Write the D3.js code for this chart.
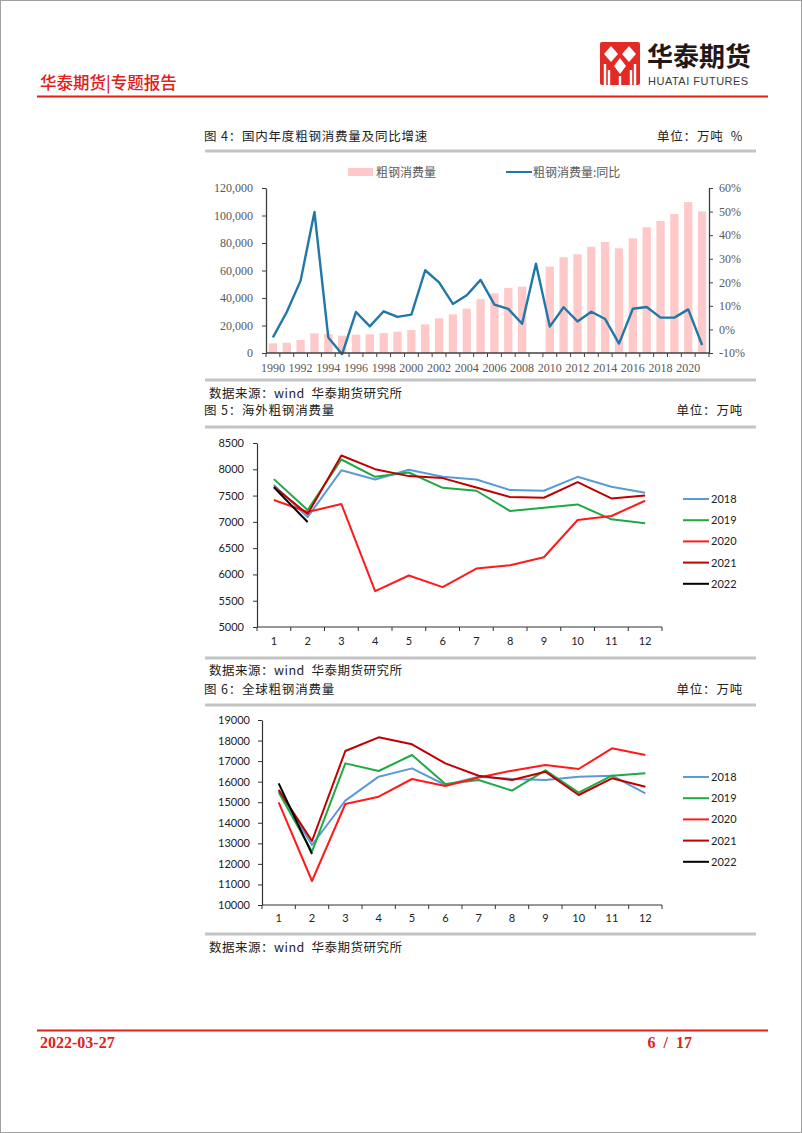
<!DOCTYPE html>
<html><head><meta charset="utf-8">
<script src="https://cdn.jsdelivr.net/npm/d3@7"></script>
<style>
html,body{margin:0;padding:0;background:#fff;}
svg{display:block;}
</style></head>
<body>
<svg id="page" width="802" height="1133"></svg>
<script>
// ---------- DATA ----------
const years = d3.range(1990, 2022);
const consumption = [7000,7500,9500,14300,13800,12600,13300,13600,14500,15500,16700,20800,25200,28100,32200,39200,43400,47300,48300,null,62800,69600,71800,77300,80700,76100,83400,91400,96000,101100,109800,103000];
const yoy = [-3.4,7.4,20.7,49.8,-3.4,-10.5,7.4,1.3,7.7,5.3,6.3,25.1,20.0,10.8,14.5,21.0,10.5,8.7,2.4,27.9,1.2,9.4,3.4,7.5,4.4,-6.0,8.8,9.5,5.0,5.0,8.5,-6.6];
const leftTicks4 = [0,20000,40000,60000,80000,100000,120000];
const rightTicks4 = [-10,0,10,20,30,40,50,60];
const yearLabels4 = d3.range(1990, 2021, 2);

const months = [1,2,3,4,5,6,7,8,9,10,11,12];
const seriesNames = ["2018","2019","2020","2021","2022"];
const seriesColors = ["#5B9BD5","#1DAA46","#FF1A1A","#C00000","#000000"];

const overseas2018 = [7700,7090,7980,7806,7990,7857,7806,7604,7592,7857,7668,7554];
const overseas2019 = [7813,7225,8186,7857,7939,7648,7592,7206,7269,7332,7048,6972];
const overseas2020 = [7415,7187,7339,5683,5980,5759,6112,6176,6327,7035,7111,7402];
const overseas2021 = [7667,7149,8262,8002,7870,7832,7655,7472,7459,7756,7446,7503];
const overseas2022 = [7655,6998];
const overseasTicks = [5000,5500,6000,6500,7000,7500,8000,8500];

const global2018 = [15600,12920,15075,16243,16648,15838,16240,16130,16080,16243,16290,15430];
const global2019 = [15480,12594,16891,16519,17297,15886,16080,15562,16551,15464,16291,16405];
const global2020 = [14994,11168,14913,15270,16130,15789,16200,16535,16810,16616,17621,17297];
const global2021 = [15594,13113,17491,18156,17816,16891,16290,16080,16486,15351,16162,15757];
const global2022 = [15918,12481];
const globalTicks = [10000,11000,12000,13000,14000,15000,16000,17000,18000,19000];

// ---------- PAGE ----------
const svg = d3.select("#page");
const CJK = "'Noto Sans CJK SC', sans-serif";
svg.append("rect").attr("x",0.5).attr("y",0.5).attr("width",801).attr("height",1132)
  .attr("fill","none").attr("stroke","#a0a0a0").attr("stroke-width",1);

// header
svg.append("text").attr("x",40).attr("y",89).text("华泰期货|专题报告")
  .attr("font-family",CJK).attr("font-size",16.5).attr("font-weight",500).attr("fill","#e0201b");
svg.append("line").attr("x1",37).attr("x2",768).attr("y1",96.5).attr("y2",96.5)
  .attr("stroke","#e0201b").attr("stroke-width",2);
// logo
const logo = svg.append("g");
logo.append("rect").attr("x",600).attr("y",42).attr("width",40).attr("height",43).attr("rx",2).attr("fill","#e42a24");
[[611,54],[629,54]].forEach(([cx,cy])=>{
  logo.append("path").attr("d",`M${cx},${cy-8}L${cx+7},${cy}L${cx},${cy+8}L${cx-7},${cy}Z`).attr("fill","#fff");
});
logo.append("path").attr("d","M620,58L626,66L620,74L614,66Z").attr("fill","#fff");
[[605,64],[609,70],[631,70],[635,64]].forEach(([x,y])=>{
  logo.append("rect").attr("x",x-1.2).attr("y",y).attr("width",2.4).attr("height",85-y).attr("fill","#fff");
});
logo.append("rect").attr("x",618.8).attr("y",76).attr("width",2.4).attr("height",9).attr("fill","#fff");
svg.append("text").attr("x",647).attr("y",66).text("华泰期货")
  .attr("font-family",CJK).attr("font-size",26).attr("font-weight",700).attr("fill","#231815");
svg.append("text").attr("x",648).attr("y",85).text("HUATAI FUTURES")
  .attr("font-family","'Liberation Sans', Arial, sans-serif").attr("font-size",11).attr("letter-spacing",0.5).attr("fill","#3a3a3a");

// footer
svg.append("line").attr("x1",37).attr("x2",768).attr("y1",1030.5).attr("y2",1030.5)
  .attr("stroke","#e0201b").attr("stroke-width",2);
svg.append("text").attr("x",40).attr("y",1048).text("2022-03-27")
  .attr("font-family","'Liberation Serif', serif").attr("font-size",16).attr("font-weight",700).attr("fill","#e0201b");
svg.append("text").attr("x",692).attr("y",1048).attr("text-anchor","end").text("6  /  17")
  .attr("font-family","'Liberation Serif', serif").attr("font-size",16).attr("font-weight",700).attr("fill","#e0201b")
  .style("white-space","pre");

// helpers
function titleRow(y, left, right){
  svg.append("text").attr("x",204).attr("y",y).text(left)
    .attr("font-family",CJK).attr("font-size",12.5).attr("letter-spacing",0.8).attr("fill","#222");
  svg.append("text").attr("x",743).attr("y",y).attr("text-anchor","end").text(right)
    .attr("font-family",CJK).attr("font-size",12.5).attr("letter-spacing",0.8).attr("fill","#222")
    .style("white-space","pre");
}
function grayRule(y){
  svg.append("line").attr("x1",205).attr("x2",756).attr("y1",y).attr("y2",y)
    .attr("stroke","#c4c4c4").attr("stroke-width",3);
}
function source(y){
  svg.append("text").attr("x",209).attr("y",y).text("数据来源：wind  华泰期货研究所")
    .attr("font-family",CJK).attr("font-size",12.5).attr("letter-spacing",0.5).attr("fill","#222")
    .style("white-space","pre");
}

// ---------- CHART 4 ----------
titleRow(141, "图 4：国内年度粗钢消费量及同比增速", "单位：万吨  %");
grayRule(151);
{
  const x = d3.scaleBand().domain(years).range([266,709]).paddingInner(0.4).paddingOuter(0.2);
  const yL = d3.scaleLinear().domain([0,120000]).range([353,188]);
  const yR = d3.scaleLinear().domain([-10,60]).range([353,188]);
  const g = svg.append("g");
  const axisCol = "#404040";
  g.selectAll("rect.bar").data(years.map((yr,i)=>({yr,v:consumption[i]})).filter(d=>d.v!=null))
    .join("rect").attr("class","bar")
    .attr("x",d=>x(d.yr)).attr("width",x.bandwidth())
    .attr("y",d=>yL(d.v)).attr("height",d=>yL(0)-yL(d.v)).attr("fill","#FFC9C9");
  const line = d3.line().x((d,i)=>x(years[i])+x.bandwidth()/2).y(d=>yR(d));
  g.append("path").datum(yoy).attr("d",line).attr("fill","none")
    .attr("stroke","#1F78A8").attr("stroke-width",2.4).attr("stroke-linejoin","round");
  const la = g.append("g").attr("transform","translate(266,0)")
    .call(d3.axisLeft(yL).tickValues(leftTicks4).tickSize(4).tickSizeOuter(0).tickFormat(d3.format(",")));
  la.select(".domain").attr("stroke",axisCol).attr("stroke-width",1.3);
  la.selectAll(".tick line").attr("stroke",axisCol);
  la.selectAll("text").attr("x",-13).attr("font-family","'Liberation Serif', serif").attr("font-size",12).attr("fill","#595959");
  const ra = g.append("g").attr("transform","translate(709,0)")
    .call(d3.axisRight(yR).tickValues(rightTicks4).tickSize(4).tickSizeOuter(0).tickFormat(d=>d+"%"));
  ra.select(".domain").attr("stroke",axisCol).attr("stroke-width",1.3);
  ra.selectAll(".tick line").attr("stroke",axisCol);
  ra.selectAll("text").attr("x",10).attr("font-family","'Liberation Serif', serif").attr("font-size",12).attr("fill","#595959");
  g.append("line").attr("x1",266).attr("x2",709).attr("y1",353).attr("y2",353).attr("stroke",axisCol).attr("stroke-width",1.3);
  const bnd = d3.scaleLinear().domain([0,years.length]).range([266,709]);
  g.selectAll("line.xt").data(d3.range(0,years.length+1)).join("line").attr("class","xt")
    .attr("x1",d=>bnd(d)).attr("x2",d=>bnd(d)).attr("y1",353).attr("y2",357).attr("stroke",axisCol);
  g.selectAll("text.xl").data(yearLabels4).join("text").attr("class","xl")
    .attr("x",d=>x(d)+x.bandwidth()/2).attr("y",372).attr("text-anchor","middle").text(d=>d)
    .attr("font-family","'Liberation Serif', serif").attr("font-size",12).attr("fill","#595959");
  g.append("rect").attr("x",348).attr("y",168).attr("width",25).attr("height",8).attr("fill","#FFC9C9");
  g.append("text").attr("x",376).attr("y",177).text("粗钢消费量").attr("font-family",CJK).attr("font-size",12).attr("fill","#595959");
  g.append("line").attr("x1",506).attr("x2",532).attr("y1",172).attr("y2",172).attr("stroke","#1F78A8").attr("stroke-width",2);
  g.append("text").attr("x",533).attr("y",177).text("粗钢消费量:同比").attr("font-family",CJK).attr("font-size",12).attr("fill","#595959");
}
grayRule(380);
source(398);

// ---------- monthly charts ----------
function monthChart(opts){
  const {x0,x1,yTop,yBot,domain,ticks,series,labelY,legendY0,labelEnd} = opts;
  const g = svg.append("g");
  const x = d3.scaleBand().domain(months).range([x0,x1]);
  const y = d3.scaleLinear().domain(domain).range([yBot,yTop]);
  const ax = "#333";
  const la = g.append("g").attr("transform",`translate(${x0},0)`)
    .call(d3.axisLeft(y).tickValues(ticks).tickSize(4).tickSizeOuter(0).tickFormat(d3.format("d")));
  la.select(".domain").attr("stroke",ax).attr("stroke-width",1.2);
  la.selectAll(".tick line").attr("stroke",ax);
  la.selectAll("text").attr("x",labelEnd - x0).attr("font-family","Lato, 'Open Sans', sans-serif").attr("font-size",11).attr("fill","#222");
  g.append("line").attr("x1",x0).attr("x2",x1).attr("y1",yBot).attr("y2",yBot).attr("stroke",ax).attr("stroke-width",1.2);
  const bnd = d3.scaleLinear().domain([0,12]).range([x0,x1]);
  g.selectAll("line.xt").data(d3.range(0,13)).join("line").attr("class","xt")
    .attr("x1",d=>bnd(d)).attr("x2",d=>bnd(d)).attr("y1",yBot).attr("y2",yBot+4).attr("stroke",ax);
  g.selectAll("text.xl").data(months).join("text").attr("class","xl")
    .attr("x",d=>x(d)+x.bandwidth()/2).attr("y",labelY).attr("text-anchor","middle").text(d=>d)
    .attr("font-family","Lato, 'Open Sans', sans-serif").attr("font-size",11).attr("fill","#222");
  const line = d3.line().x((d,i)=>x(months[i])+x.bandwidth()/2).y(d=>y(d));
  series.forEach((s,k)=>{
    g.append("path").datum(s).attr("d",line).attr("fill","none")
      .attr("stroke",seriesColors[k]).attr("stroke-width",2).attr("stroke-linejoin","round");
  });
  seriesNames.forEach((nm,k)=>{
    const ly = legendY0 + k*21.2;
    g.append("line").attr("x1",683).attr("x2",709).attr("y1",ly).attr("y2",ly)
      .attr("stroke",seriesColors[k]).attr("stroke-width",2);
    g.append("text").attr("x",711).attr("y",ly+4).text(nm)
      .attr("font-family","Lato, 'Open Sans', sans-serif").attr("font-size",11).attr("fill","#222");
  });
}

titleRow(415, "图 5：海外粗钢消费量", "单位：万吨");
grayRule(427);
monthChart({x0:257,x1:662,yTop:443,yBot:627,domain:[5000,8500],ticks:overseasTicks,
  series:[overseas2018,overseas2019,overseas2020,overseas2021,overseas2022],
  labelY:645,legendY0:499,labelEnd:244});
grayRule(658);
source(675);

titleRow(694, "图 6：全球粗钢消费量", "单位：万吨");
grayRule(705);
monthChart({x0:262,x1:662,yTop:720,yBot:905,domain:[10000,19000],ticks:globalTicks,
  series:[global2018,global2019,global2020,global2021,global2022],
  labelY:922,legendY0:777,labelEnd:250});
grayRule(934);
source(952);
</script>
</body></html>
